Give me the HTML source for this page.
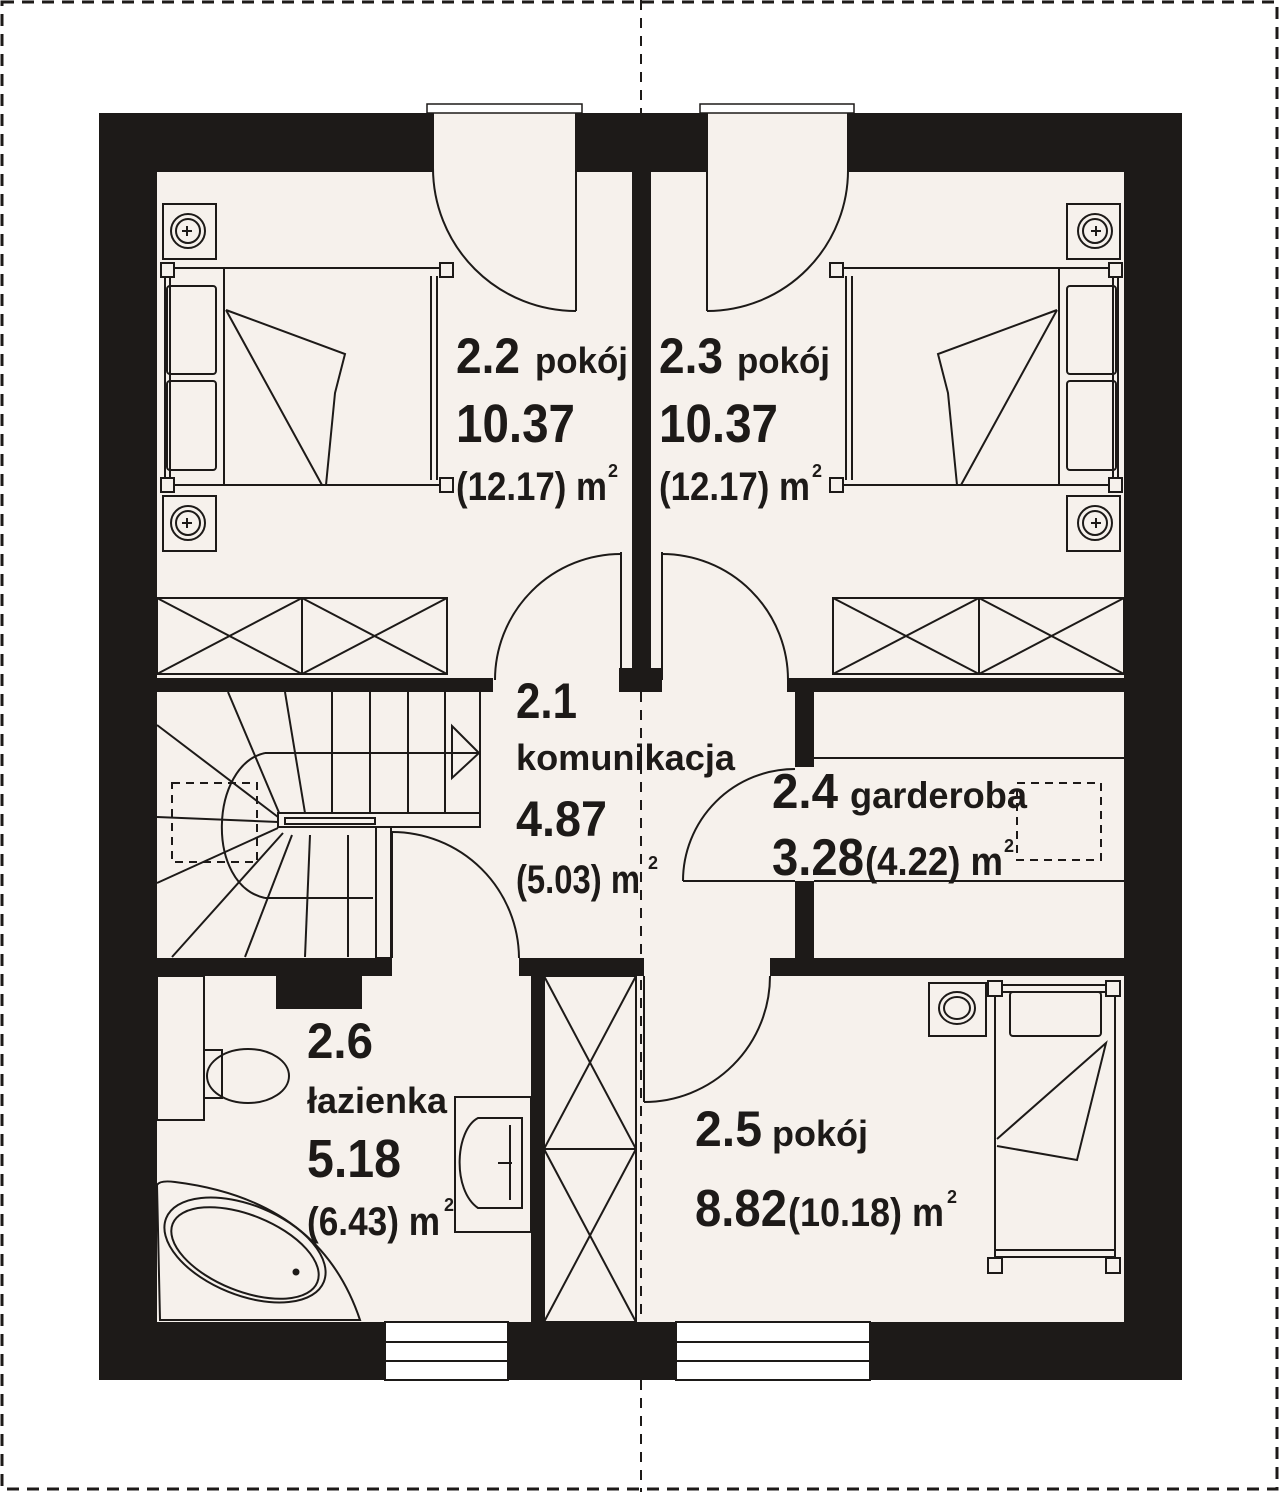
<!DOCTYPE html>
<html><head><meta charset="utf-8"><style>
html,body{margin:0;padding:0;background:#fff;}
svg{display:block;}
text{font-family:"Liberation Sans",sans-serif;font-weight:bold;fill:#1d1a18;}
</style></head><body>
<svg width="1280" height="1492" viewBox="0 0 1280 1492" xmlns="http://www.w3.org/2000/svg">
<rect x="0" y="0" width="1280" height="1492" fill="#fff"/>
<!-- dashed frame -->
<rect x="2" y="2" width="1275" height="1487" fill="none" stroke="#1d1a18" stroke-width="3" stroke-dasharray="12,8"/>
<line x1="641" y1="0" x2="641" y2="113" stroke="#1d1a18" stroke-width="2" stroke-dasharray="10,8"/>
<line x1="641" y1="1380" x2="641" y2="1492" stroke="#1d1a18" stroke-width="2" stroke-dasharray="10,8"/>

<!-- outer walls -->
<rect x="99" y="113" width="1083" height="1267" fill="#1d1a18"/>
<rect x="157" y="172" width="967" height="1150" fill="#f6f1ec"/>

<!-- top door openings -->
<rect x="433" y="112" width="143" height="62" fill="#f6f1ec"/>
<rect x="707" y="112" width="141" height="62" fill="#f6f1ec"/>
<rect x="427" y="104" width="155" height="9" fill="#fff" stroke="#1d1a18" stroke-width="1.5"/>
<rect x="700" y="104" width="154" height="9" fill="#fff" stroke="#1d1a18" stroke-width="1.5"/>

<g fill="#1d1a18">
<!-- partition 2.2/2.3 -->
<rect x="632" y="172" width="19" height="500"/>
<rect x="619" y="668" width="43" height="24"/>
<!-- corridor walls y 678-692 -->
<rect x="157" y="678" width="336" height="14"/>
<rect x="787" y="678" width="337" height="14"/>
<!-- garderoba wall -->
<rect x="795" y="678" width="19" height="89"/>
<rect x="795" y="881" width="19" height="80"/>
<!-- horizontal wall 958-976 -->
<rect x="157" y="958" width="235" height="18"/>
<rect x="519" y="958" width="125" height="18"/>
<rect x="770" y="958" width="354" height="18"/>
<rect x="276" y="975" width="86" height="34"/>
<!-- bath wall -->
<rect x="531" y="958" width="13" height="364"/>
</g>

<!-- bottom windows -->
<g fill="#fff" stroke="#1d1a18" stroke-width="2">
<rect x="385" y="1322" width="123" height="58"/>
<rect x="676" y="1322" width="194" height="58"/>
</g>
<g stroke="#1d1a18" stroke-width="2">
<line x1="385" y1="1342" x2="508" y2="1342"/><line x1="385" y1="1361" x2="508" y2="1361"/>
<line x1="676" y1="1342" x2="870" y2="1342"/><line x1="676" y1="1361" x2="870" y2="1361"/>
</g>

<g fill="none" stroke="#1d1a18" stroke-width="2">
<!-- top doors -->
<line x1="576" y1="113" x2="576" y2="311"/>
<line x1="433" y1="113" x2="433" y2="168"/>
<path d="M433 168 A143 143 0 0 0 576 311"/>
<line x1="707" y1="113" x2="707" y2="311"/>
<line x1="848" y1="113" x2="848" y2="168"/>
<path d="M848 168 A141 141 0 0 1 707 311"/>
<!-- corridor doors to bedrooms -->
<line x1="621" y1="552" x2="621" y2="680"/>
<path d="M621 554 A126 126 0 0 0 495 680"/>
<line x1="662" y1="552" x2="662" y2="680"/>
<path d="M662 554 A126 126 0 0 1 788 680"/>
<!-- garderoba door -->
<line x1="683" y1="881" x2="795" y2="881"/>
<path d="M683 881 A112 112 0 0 1 795 769"/>
<!-- door to 2.5 -->
<line x1="644" y1="976" x2="644" y2="1102"/>
<path d="M770 976 A126 126 0 0 1 644 1102"/>
<!-- bathroom door -->
<line x1="392" y1="832" x2="392" y2="958"/>
<path d="M392 832 A127 127 0 0 1 519 958"/>

<!-- wardrobes 2.2 -->
<rect x="157" y="598" width="290" height="76"/>
<line x1="302" y1="598" x2="302" y2="674"/>
<line x1="157" y1="598" x2="302" y2="674"/><line x1="302" y1="598" x2="157" y2="674"/>
<line x1="302" y1="598" x2="447" y2="674"/><line x1="447" y1="598" x2="302" y2="674"/>
<!-- wardrobes 2.3 -->
<rect x="833" y="598" width="291" height="76"/>
<line x1="979" y1="598" x2="979" y2="674"/>
<line x1="833" y1="598" x2="979" y2="674"/><line x1="979" y1="598" x2="833" y2="674"/>
<line x1="979" y1="598" x2="1124" y2="674"/><line x1="1124" y1="598" x2="979" y2="674"/>
<!-- corridor wardrobe -->
<rect x="544" y="976" width="92" height="346"/>
<line x1="544" y1="1149" x2="636" y2="1149"/>
<line x1="544" y1="976" x2="636" y2="1149"/><line x1="636" y1="976" x2="544" y2="1149"/>
<line x1="544" y1="1149" x2="636" y2="1322"/><line x1="636" y1="1149" x2="544" y2="1322"/>
<!-- garderoba shelves -->
<line x1="814" y1="758" x2="1124" y2="758"/>
<line x1="814" y1="881" x2="1124" y2="881"/>
</g>
<line x1="641" y1="692" x2="641" y2="1322" stroke="#1d1a18" stroke-width="2" stroke-dasharray="10,8"/>
<rect x="1017" y="783" width="84" height="77" fill="none" stroke="#1d1a18" stroke-width="2" stroke-dasharray="8,6"/>

<!-- stairs -->
<g fill="none" stroke="#1d1a18" stroke-width="2">
<line x1="332" y1="692" x2="332" y2="813"/>
<line x1="370" y1="692" x2="370" y2="813"/>
<line x1="408" y1="692" x2="408" y2="813"/>
<line x1="445" y1="692" x2="445" y2="813"/>
<line x1="480" y1="692" x2="480" y2="827"/>
<line x1="228" y1="692" x2="280" y2="815"/>
<line x1="285" y1="692" x2="305" y2="813"/>
<line x1="157" y1="725" x2="278" y2="817"/>
<line x1="157" y1="817" x2="278" y2="822"/>
<line x1="157" y1="883" x2="278" y2="828"/>
<line x1="172" y1="957" x2="283" y2="833"/>
<line x1="245" y1="957" x2="292" y2="835"/>
<line x1="305" y1="957" x2="310" y2="835"/>
<line x1="348" y1="835" x2="348" y2="957"/>
<line x1="265" y1="753" x2="480" y2="753"/>
<line x1="265" y1="898" x2="373" y2="898"/>
<path d="M265 753 C210 765 205 885 265 898"/>
<polygon points="452,726 479,753 452,778"/>
<rect x="278" y="813" width="202" height="14" fill="#f6f1ec"/>
<rect x="285" y="818" width="90" height="6"/>
<rect x="376" y="827" width="15" height="131" fill="#f6f1ec"/>
<rect x="172" y="783" width="85" height="79" stroke-dasharray="8,6"/>
</g>

<!-- bed 2.2 and mirrored 2.3 -->
<g id="bed" fill="none" stroke="#1d1a18" stroke-width="2">
<rect x="163" y="204" width="53" height="55" fill="#f6f1ec"/>
<circle cx="188" cy="231" r="17"/><circle cx="188" cy="231" r="12"/>
<path d="M182 231 h10 M187 226 v10"/>
<rect x="163" y="496" width="53" height="55" fill="#f6f1ec"/>
<circle cx="188" cy="523" r="17"/><circle cx="188" cy="523" r="12"/>
<path d="M182 523 h10 M187 518 v10"/>
<line x1="172" y1="268" x2="442" y2="268"/>
<line x1="172" y1="485" x2="442" y2="485"/>
<line x1="165" y1="276" x2="165" y2="480"/>
<line x1="170" y1="276" x2="170" y2="480"/>
<line x1="431" y1="276" x2="431" y2="480"/>
<line x1="437" y1="276" x2="437" y2="480"/>
<line x1="224" y1="268" x2="224" y2="485"/>
<rect x="167" y="286" width="49" height="88" rx="3"/>
<rect x="167" y="381" width="49" height="89" rx="3"/>
<path d="M226 310 L345 354 L335 393 L326 485 M226 310 L322 485"/>
<rect x="161" y="263" width="13" height="14" fill="#f6f1ec"/>
<rect x="440" y="263" width="13" height="14" fill="#f6f1ec"/>
<rect x="161" y="478" width="13" height="14" fill="#f6f1ec"/>
<rect x="440" y="478" width="13" height="14" fill="#f6f1ec"/>
</g>
<use href="#bed" transform="translate(1283,0) scale(-1,1)"/>

<!-- bed 2.5 -->
<g fill="none" stroke="#1d1a18" stroke-width="2">
<rect x="929" y="983" width="57" height="53"/>
<ellipse cx="957" cy="1008" rx="18" ry="16"/><ellipse cx="957" cy="1008" rx="13" ry="11"/>
<line x1="995" y1="990" x2="995" y2="1265"/>
<line x1="1115" y1="990" x2="1115" y2="1265"/>
<line x1="996" y1="985" x2="1114" y2="985"/>
<line x1="996" y1="992" x2="1114" y2="992"/>
<line x1="996" y1="1250" x2="1114" y2="1250"/>
<line x1="996" y1="1257" x2="1114" y2="1257"/>
<rect x="1010" y="992" width="91" height="44" rx="3"/>
<path d="M997 1139 L1106 1043 L1077 1160 L997 1146"/>
<rect x="988" y="981" width="14" height="15" fill="#f6f1ec"/>
<rect x="1106" y="981" width="14" height="15" fill="#f6f1ec"/>
<rect x="988" y="1258" width="14" height="15" fill="#f6f1ec"/>
<rect x="1106" y="1258" width="14" height="15" fill="#f6f1ec"/>
</g>

<!-- bathroom fixtures -->
<g fill="none" stroke="#1d1a18" stroke-width="2">
<rect x="157" y="976" width="47" height="144"/>
<rect x="204" y="1050" width="18" height="48"/>
<ellipse cx="248" cy="1076" rx="41" ry="27"/>
<rect x="455" y="1097" width="76" height="135"/>
<path d="M522 1118 L478 1118 C455 1130 452 1190 478 1208 L522 1208 Z"/>
<path d="M510 1125 v75 M498 1163 h14"/>
<path d="M157 1185 Q160 1180 175 1182 Q320 1200 360 1320 L160 1320 Z"/>
<ellipse cx="245" cy="1250" rx="85" ry="45" transform="rotate(22 245 1250)"/>
<ellipse cx="245" cy="1253" rx="78" ry="38" transform="rotate(22 245 1253)"/>
<circle cx="296" cy="1272" r="2.5" fill="#1d1a18"/>
</g>

<!-- labels -->
<text x="456" y="373" font-size="50" textLength="64" lengthAdjust="spacingAndGlyphs">2.2</text>
<text x="535" y="373" font-size="36" textLength="93" lengthAdjust="spacingAndGlyphs">pokój</text>
<text x="456" y="442" font-size="54" textLength="119" lengthAdjust="spacingAndGlyphs">10.37</text>
<text x="456" y="500" font-size="40" textLength="151" lengthAdjust="spacingAndGlyphs">(12.17) m</text>
<text x="608" y="477" font-size="18">2</text>

<text x="659" y="373" font-size="50" textLength="64" lengthAdjust="spacingAndGlyphs">2.3</text>
<text x="737" y="373" font-size="36" textLength="93" lengthAdjust="spacingAndGlyphs">pokój</text>
<text x="659" y="442" font-size="54" textLength="119" lengthAdjust="spacingAndGlyphs">10.37</text>
<text x="659" y="500" font-size="40" textLength="151" lengthAdjust="spacingAndGlyphs">(12.17) m</text>
<text x="812" y="477" font-size="18">2</text>

<text x="516" y="718" font-size="50" textLength="61" lengthAdjust="spacingAndGlyphs">2.1</text>
<text x="516" y="770" font-size="36" textLength="219" lengthAdjust="spacingAndGlyphs">komunikacja</text>
<text x="516" y="836" font-size="50" textLength="91" lengthAdjust="spacingAndGlyphs">4.87</text>
<text x="516" y="893" font-size="40" textLength="124" lengthAdjust="spacingAndGlyphs">(5.03) m</text>
<text x="648" y="869" font-size="18">2</text>

<text x="772" y="808" font-size="49" textLength="66" lengthAdjust="spacingAndGlyphs">2.4</text>
<text x="850" y="808" font-size="37" textLength="177" lengthAdjust="spacingAndGlyphs">garderoba</text>
<text x="772" y="875" font-size="52" textLength="92" lengthAdjust="spacingAndGlyphs">3.28</text>
<text x="865" y="875" font-size="40" textLength="138" lengthAdjust="spacingAndGlyphs">(4.22) m</text>
<text x="1004" y="852" font-size="18">2</text>

<text x="695" y="1146" font-size="50" textLength="67" lengthAdjust="spacingAndGlyphs">2.5</text>
<text x="772" y="1146" font-size="36" textLength="96" lengthAdjust="spacingAndGlyphs">pokój</text>
<text x="695" y="1226" font-size="52" textLength="92" lengthAdjust="spacingAndGlyphs">8.82</text>
<text x="788" y="1226" font-size="40" textLength="156" lengthAdjust="spacingAndGlyphs">(10.18) m</text>
<text x="947" y="1203" font-size="18">2</text>

<text x="307" y="1058" font-size="50" textLength="66" lengthAdjust="spacingAndGlyphs">2.6</text>
<text x="307" y="1113" font-size="36" textLength="140" lengthAdjust="spacingAndGlyphs">łazienka</text>
<text x="307" y="1177" font-size="54" textLength="94" lengthAdjust="spacingAndGlyphs">5.18</text>
<text x="307" y="1235" font-size="40" textLength="133" lengthAdjust="spacingAndGlyphs">(6.43) m</text>
<text x="444" y="1211" font-size="18">2</text>
</svg>
</body></html>
